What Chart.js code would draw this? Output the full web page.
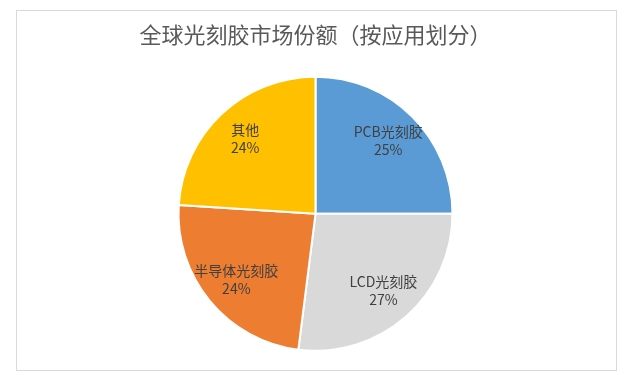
<!DOCTYPE html>
<html lang="zh">
<head>
<meta charset="UTF-8">
<title>全球光刻胶市场份额</title>
<script src="https://cdn.jsdelivr.net/npm/chart.js"></script>
<style>
  body { margin: 0; background: #fff; }
  #wrap { width: 624px; height: 375px; }
</style>
</head>
<body>
<div id="wrap"><canvas id="myChart" width="624" height="375"></canvas></div>
<script>
const labels = ['PCB光刻胶', 'LCD光刻胶', '半导体光刻胶', '其他'];
const shares = [25, 27, 24, 24];
const colors = ['#5B9BD5', '#D9D9D9', '#ED7D31', '#FFC000'];

// outer frame like the office chart box
const framePlugin = {
  id: 'frame',
  beforeDraw(chart) {
    const ctx = chart.ctx;
    ctx.save();
    ctx.fillStyle = '#fff';
    ctx.fillRect(0, 0, chart.width, chart.height);
    ctx.strokeStyle = '#D9D9D9';
    ctx.lineWidth = 1;
    ctx.strokeRect(16.5, 10.5, 600, 360);
    ctx.restore();
  }
};

// category name + percent inside each slice
const sliceLabels = {
  id: 'sliceLabels',
  afterDatasetsDraw(chart) {
    const ctx = chart.ctx;
    const meta = chart.getDatasetMeta(0);
    ctx.save();
    ctx.font = '14px "Noto Sans CJK SC", "Noto Sans", sans-serif';
    ctx.fillStyle = '#404040';
    ctx.textAlign = 'center';
    ctx.textBaseline = 'middle';
    meta.data.forEach((arc, i) => {
      const p = arc.getProps(['x', 'y', 'startAngle', 'endAngle', 'outerRadius'], true);
      const mid = (p.startAngle + p.endAngle) / 2;
      const r = p.outerRadius * 0.75;
      const x = p.x + Math.cos(mid) * r;
      const y = p.y + Math.sin(mid) * r;
      ctx.fillText(labels[i], x, y - 9);
      ctx.fillText(shares[i] + '%', x, y + 9);
    });
    ctx.restore();
  }
};

new Chart(document.getElementById('myChart'), {
  type: 'pie',
  data: {
    labels: labels,
    datasets: [{
      data: shares,
      backgroundColor: colors,
      borderColor: '#fff',
      borderWidth: 2,
      radius: 137
    }]
  },
  options: {
    responsive: false,
    animation: false,
    layout: { padding: { left: 7, right: 0, top: 0, bottom: 5 } },
    plugins: {
      legend: { display: false },
      tooltip: { enabled: false },
      title: {
        display: true,
        text: '全球光刻胶市场份额（按应用划分）',
        color: '#595959',
        font: { family: '"Noto Sans CJK SC", sans-serif', size: 22, weight: 'normal' },
        padding: { top: 21, bottom: 10 }
      }
    }
  },
  plugins: [framePlugin, sliceLabels]
});
</script>
</body>
</html>
